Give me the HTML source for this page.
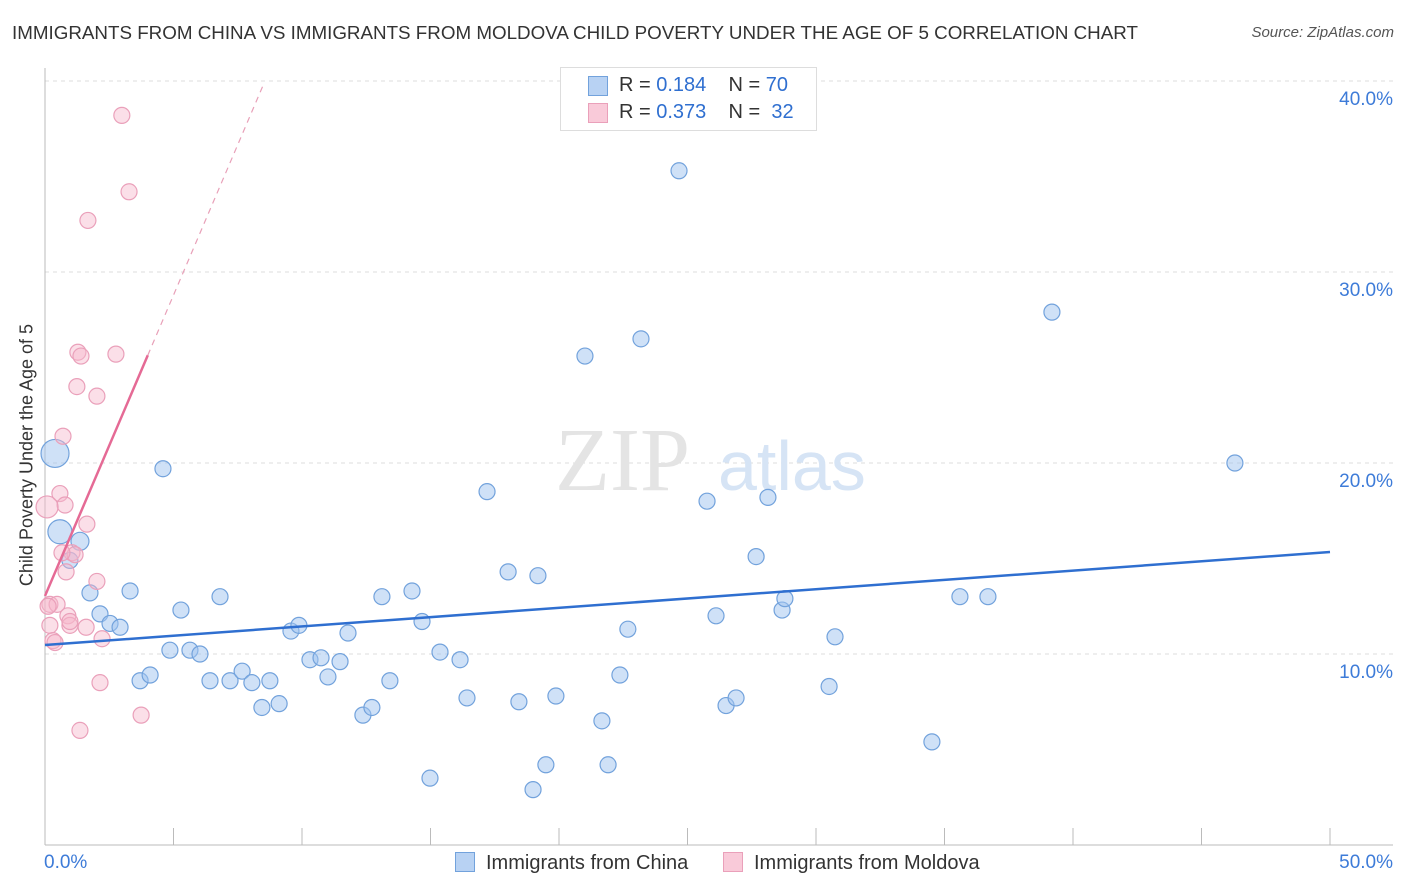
<!DOCTYPE html>
<html><head><meta charset="utf-8"><style>
body{margin:0;background:#fff;font-family:"Liberation Sans",sans-serif;}
#c{position:relative;width:1406px;height:892px;overflow:hidden}
</style></head><body>
<div id="c">
<svg id="s" width="1406" height="892" xmlns="http://www.w3.org/2000/svg"></svg>
</div>
<script>
const chinaX=[0.39,0.58,1.36,0.97,1.75,2.14,2.53,2.92,3.31,3.70,4.09,4.59,4.86,5.29,5.64,6.03,6.42,6.81,7.20,7.67,8.05,8.44,8.75,9.11,9.57,9.88,10.31,10.74,11.01,11.48,11.79,12.37,12.72,13.11,13.42,14.28,14.67,14.98,15.37,16.15,16.42,17.20,18.02,18.44,18.99,19.18,19.49,19.88,21.01,21.67,21.91,22.37,22.68,23.19,24.67,25.76,26.11,26.50,26.89,27.67,28.13,28.68,28.79,30.51,30.74,34.51,35.60,36.69,39.18,46.30];
const chinaY=[20.5,16.4,15.9,14.9,13.2,12.1,11.6,11.4,13.3,8.6,8.9,19.7,10.2,12.3,10.2,10.0,8.6,13.0,8.6,9.1,8.5,7.2,8.6,7.4,11.2,11.5,9.7,9.8,8.8,9.6,11.1,6.8,7.2,13.0,8.6,13.3,11.7,3.5,10.1,9.7,7.7,18.5,14.3,7.5,2.9,14.1,4.2,7.8,25.6,6.5,4.2,8.9,11.3,26.5,35.3,18.0,12.0,7.3,7.7,15.1,18.2,12.3,12.9,8.3,10.9,5.4,13.0,13.0,27.9,20.0];
const chinaR=[14,12,9,8,8,8,8,8,8,8,8,8,8,8,8,8,8,8,8,8,8,8,8,8,8,8,8,8,8,8,8,8,8,8,8,8,8,8,8,8,8,8,8,8,8,8,8,8,8,8,8,8,8,8,8,8,8,8,8,8,8,8,8,8,8,8,8,8,8,8];
const moldX=[2.99,3.27,1.67,1.28,1.40,2.76,1.24,2.02,0.70,0.58,0.78,0.08,1.63,1.05,1.17,0.66,0.82,2.02,0.19,0.47,0.89,0.97,1.60,0.19,2.22,0.31,0.39,2.14,3.74,1.36,0.97,0.12];
const moldY=[38.2,34.2,32.7,25.8,25.6,25.7,24.0,23.5,21.4,18.4,17.8,17.7,16.8,15.3,15.2,15.3,14.3,13.8,12.6,12.6,12.0,11.5,11.4,11.5,10.8,10.7,10.6,8.5,6.8,6.0,11.7,12.5];
const moldR=[8,8,8,8,8,8,8,8,8,8,8,11,8,8,8,8,8,8,8,8,8,8,8,8,8,8,8,8,8,8,8,8];
const yTicks=[10,20,30,40];
const yTickLabels=["10.0%","20.0%","30.0%","40.0%"];
const xTicks=[0,5,10,15,20,25,30,35,40,45,50];
const chinaLine=[10.47,15.34];
const moldLine=[13.04,3.15,4,8.5];
const sx=v=>45+v*25.7, sy=v=>845-v*19.1;
const s=document.getElementById('s');const NS='http://www.w3.org/2000/svg';
function mk(t,a,p){const e=document.createElementNS(NS,t);for(const k in a)e.setAttribute(k,a[k]);(p||s).appendChild(e);return e;}
yTicks.forEach((t,i)=>{
 const g=mk('line',{x1:45,x2:1393,y1:sy(t),y2:sy(t),stroke:'#ddd','stroke-dasharray':'4,4'});
 
 
 const l=mk('text',{x:1393,y:sy(t)+24,'text-anchor':'end','font-size':19,fill:'#3d7bd8'});l.textContent=yTickLabels[i];
 
 
});
mk('line',{x1:45,x2:45,y1:68,y2:845,stroke:'#bbb'});
mk('line',{x1:45,x2:1393,y1:845,y2:845,stroke:'#bbb'});
xTicks.forEach(t=>{const e=mk('line',{x1:sx(t),x2:sx(t),y1:828,y2:845,stroke:'#bbb'});
 
 });
const wm=mk('text',{x:555,y:490,'font-size':90,fill:'#e4e4e4','font-family':'Liberation Serif'});wm.textContent='ZIP';
const wm2=mk('text',{x:718,y:490,'font-size':70,fill:'#d6e4f5'});wm2.textContent='atlas';
for(let i=0;i<chinaX.length;i++){const c=mk('circle',{cx:sx(chinaX[i]),cy:sy(chinaY[i]),r:chinaR[i],fill:'rgba(160,196,240,0.5)',stroke:'#72a2dc','stroke-width':1.2});
 
 }
for(let i=0;i<moldX.length;i++){const c=mk('circle',{cx:sx(moldX[i]),cy:sy(moldY[i]),r:moldR[i],fill:'rgba(246,184,204,0.45)',stroke:'#eaa0ba','stroke-width':1.2});
 
 }
const bl=mk('line',{x1:sx(0),y1:sy(chinaLine[0]),x2:sx(50),y2:sy(chinaLine[1]),stroke:'#2f6fd0','stroke-width':2.5});


const pl=mk('line',{x1:sx(0),y1:sy(moldLine[0]),x2:sx(moldLine[2]),y2:sy(moldLine[0]+moldLine[1]*moldLine[2]),stroke:'#e56a95','stroke-width':2.5});


const pd=mk('line',{x1:sx(moldLine[2]),y1:sy(moldLine[0]+moldLine[1]*moldLine[2]),x2:sx(moldLine[3]),y2:sy(moldLine[0]+moldLine[1]*moldLine[3]),stroke:'#e8a0b8','stroke-width':1.2,'stroke-dasharray':'6,5'});


</script>
<div style="position:absolute;left:12px;top:22px;font-size:18.8px;color:#333">IMMIGRANTS FROM CHINA VS IMMIGRANTS FROM MOLDOVA CHILD POVERTY UNDER THE AGE OF 5 CORRELATION CHART</div>
<div style="position:absolute;right:12px;top:24px;font-size:15px;color:#555;font-style:italic">Source: ZipAtlas.com</div>
<div style="position:absolute;left:560px;top:67px;width:255px;height:62px;border:1px solid #ddd;background:#fff;font-size:20px;color:#333">
 <div style="position:absolute;left:27px;top:8px;width:18px;height:18px;background:#b8d2f3;border:1px solid #72a2dc"></div>
 <div style="position:absolute;left:58px;top:6px">R = <span style="color:#2f6fd0">0.184</span>&nbsp;&nbsp;&nbsp; N = <span style="color:#2f6fd0">70</span></div>
 <div style="position:absolute;left:27px;top:35px;width:18px;height:18px;background:#f9cad9;border:1px solid #eaa0ba"></div>
 <div style="position:absolute;left:58px;top:33px">R = <span style="color:#2f6fd0">0.373</span>&nbsp;&nbsp;&nbsp; N = <span style="color:#2f6fd0">&nbsp;32</span></div>
</div>
<div style="position:absolute;left:44px;top:852px;font-size:19px;color:#3d7bd8">0.0%</div>
<div style="position:absolute;right:13px;top:852px;font-size:19px;color:#3d7bd8">50.0%</div>
<div style="position:absolute;left:27px;top:455px;transform:translate(-50%,-50%) rotate(-90deg);white-space:nowrap;font-size:18px;color:#333">Child Poverty Under the Age of 5</div>
<div style="position:absolute;left:455px;top:852px;font-size:20px;color:#333"><span style="display:inline-block;width:18px;height:18px;background:#b8d2f3;border:1px solid #72a2dc;vertical-align:-3px;margin-right:11px"></span>Immigrants from China</div>
<div style="position:absolute;left:723px;top:852px;font-size:20px;color:#333"><span style="display:inline-block;width:18px;height:18px;background:#f9cad9;border:1px solid #eaa0ba;vertical-align:-3px;margin-right:11px"></span>Immigrants from Moldova</div>
</body></html>
